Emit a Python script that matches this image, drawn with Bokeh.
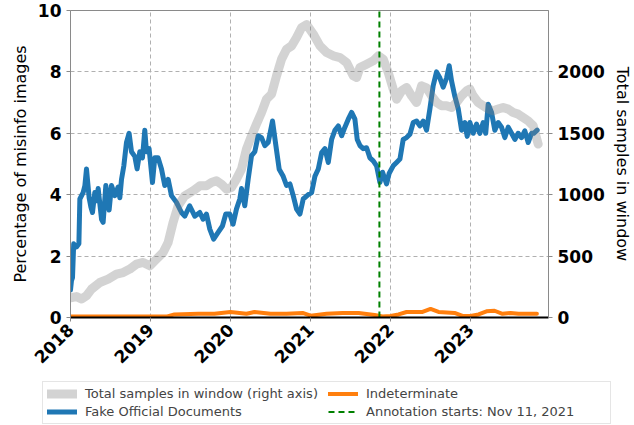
import math
from datetime import datetime
from bokeh.plotting import figure
from bokeh.layouts import column
from bokeh.models import (Range1d, LinearAxis, FixedTicker, DatetimeTickFormatter,
                          Legend, LegendItem)
from bokeh.embed import file_html
from bokeh.resources import INLINE

# ---------------- data (decimal years) ----------------
fake_t = [
    2018.000, 2018.012, 2018.025, 2018.040, 2018.075, 2018.105, 2018.117, 2018.158, 2018.180, 2018.200,
    2018.233, 2018.255, 2018.275, 2018.304, 2018.325, 2018.346, 2018.388, 2018.408, 2018.442, 2018.483,
    2018.513, 2018.554, 2018.596, 2018.617, 2018.638, 2018.667, 2018.700, 2018.733, 2018.763, 2018.804,
    2018.833, 2018.867, 2018.900, 2018.929, 2018.950, 2018.983, 2019.025, 2019.054, 2019.096, 2019.138,
    2019.179, 2019.221, 2019.263, 2019.325, 2019.388, 2019.429, 2019.490, 2019.554, 2019.617, 2019.658,
    2019.700, 2019.742, 2019.790, 2019.846, 2019.900, 2019.942, 2019.992, 2020.033, 2020.075, 2020.117,
    2020.138, 2020.179, 2020.221, 2020.263, 2020.304, 2020.346, 2020.388, 2020.429, 2020.471, 2020.525,
    2020.567, 2020.608, 2020.658, 2020.700, 2020.742, 2020.783, 2020.825, 2020.867, 2020.908, 2020.971,
    2021.013, 2021.054, 2021.096, 2021.138, 2021.179, 2021.221, 2021.263, 2021.304, 2021.346, 2021.388,
    2021.429, 2021.471, 2021.513, 2021.554, 2021.583, 2021.617, 2021.658, 2021.700, 2021.742, 2021.783,
    2021.825, 2021.867, 2021.900, 2021.950, 2021.983, 2022.033, 2022.075, 2022.117, 2022.158, 2022.200,
    2022.242, 2022.283, 2022.325, 2022.367, 2022.408, 2022.450, 2022.492, 2022.533, 2022.575, 2022.617,
    2022.658, 2022.700, 2022.733, 2022.763, 2022.804, 2022.846, 2022.888, 2022.929, 2022.958, 2022.992,
    2023.033, 2023.075, 2023.117, 2023.158, 2023.190, 2023.221, 2023.263, 2023.304, 2023.346, 2023.388,
    2023.429, 2023.471, 2023.513, 2023.554, 2023.596, 2023.638, 2023.679, 2023.721, 2023.763, 2023.790, 2023.833,
]
fake_pct = [
    0.9, 1.2, 1.3, 2.4, 2.3, 2.4, 3.86, 4.07, 4.3, 4.84,
    3.9, 3.6, 3.42, 4.07, 3.8, 4.2, 3.2, 3.1, 4.3, 3.5,
    4.3, 3.97, 4.25, 3.9, 4.5, 4.94, 5.7, 6.0, 5.4, 5.25,
    4.84, 5.4, 5.2, 6.1, 5.4, 5.5, 4.4, 5.2, 5.2, 4.84,
    4.3, 4.5, 3.97, 3.75, 3.42, 3.3, 3.64, 3.3, 3.42, 3.2,
    3.37, 2.88, 2.55, 2.77, 2.98, 3.37, 3.37, 3.04, 3.53, 3.86,
    4.2, 3.64, 4.5, 5.27, 5.4, 5.92, 5.86, 5.6, 5.7, 6.4,
    5.6, 4.83, 4.6, 4.3, 4.35, 3.97, 3.53, 3.37, 3.86, 4.0,
    4.07, 4.6, 4.84, 5.37, 5.5, 5.05, 5.8, 6.1, 6.24, 5.92,
    6.2, 6.46, 6.68, 6.46, 5.8, 5.6, 5.5, 5.53, 5.2, 5.1,
    4.94, 4.4, 4.73, 4.35, 4.7, 4.94, 5.05, 5.16, 5.8, 5.86,
    5.97, 6.35, 6.4, 6.24, 6.4, 6.1, 6.8, 7.55, 8.0, 7.8,
    7.5, 7.8, 8.2, 7.7, 7.2, 6.8, 6.1, 6.35, 5.9, 6.35,
    6.0, 6.3, 6.0, 6.35, 6.0, 6.95, 6.68, 6.1, 6.35, 6.2,
    5.86, 6.2, 6.0, 5.8, 6.0, 5.86, 6.08, 5.7, 6.0, 6.0, 6.1,
]

total_t = [
    2018.000, 2018.075, 2018.138, 2018.200, 2018.263, 2018.367, 2018.471, 2018.575, 2018.658, 2018.742,
    2018.825, 2018.908, 2018.992, 2019.075, 2019.158, 2019.221, 2019.283, 2019.346, 2019.429, 2019.533,
    2019.617, 2019.700, 2019.763, 2019.825, 2019.888, 2019.950, 2020.013, 2020.075, 2020.138, 2020.200,
    2020.263, 2020.325, 2020.388, 2020.450, 2020.513, 2020.575, 2020.638, 2020.700, 2020.763, 2020.825,
    2020.888, 2020.950, 2021.033, 2021.117, 2021.200, 2021.283, 2021.367, 2021.450, 2021.533, 2021.575,
    2021.617, 2021.700, 2021.783, 2021.846, 2021.908, 2021.971, 2022.033, 2022.075, 2022.138, 2022.200,
    2022.263, 2022.325, 2022.388, 2022.450, 2022.513, 2022.575, 2022.638, 2022.700, 2022.763, 2022.825,
    2022.888, 2022.950, 2022.992, 2023.033, 2023.096, 2023.158, 2023.221, 2023.283, 2023.346, 2023.408,
    2023.471, 2023.533, 2023.596, 2023.658, 2023.721, 2023.783, 2023.846,
]
total_n = [
    160, 170, 150, 177, 231, 285, 313, 353, 366, 394,
    435, 448, 421, 475, 529, 611, 774, 910, 991, 1032,
    1072, 1072, 1099, 1113, 1086, 1045, 1058, 1127, 1208, 1371,
    1479, 1575, 1669, 1778, 1819, 1968, 2104, 2185, 2212, 2280,
    2361, 2385, 2308, 2212, 2158, 2131, 2117, 2076, 1968, 1954,
    2036, 2063, 2090, 2131, 2104, 1995, 1860, 1778, 1846, 1873,
    1805, 1751, 1887, 1870, 1805, 1751, 1724, 1724, 1710, 1751,
    1805, 1846, 1860, 1805, 1751, 1724, 1697, 1683, 1697, 1710,
    1697, 1669, 1656, 1629, 1601, 1561, 1412,
]

indet_t = [
    2018.00, 2019.20, 2019.30, 2019.60, 2019.80, 2020.00, 2020.20, 2020.30, 2020.50, 2020.70,
    2020.90, 2021.00, 2021.20, 2021.40, 2021.60, 2021.80, 2021.90, 2022.00, 2022.10, 2022.20,
    2022.40, 2022.50, 2022.60, 2022.80, 2022.90, 2023.00, 2023.10, 2023.20, 2023.30, 2023.40,
    2023.50, 2023.60, 2023.83,
]
indet_pct = [
    0.03, 0.03, 0.10, 0.12, 0.12, 0.18, 0.12, 0.18, 0.12, 0.12,
    0.15, 0.06, 0.12, 0.15, 0.15, 0.08, 0.03, 0.05, 0.10, 0.18,
    0.18, 0.28, 0.18, 0.15, 0.05, 0.05, 0.10, 0.20, 0.22, 0.12,
    0.15, 0.12, 0.12,
]

year_ticks = [2018, 2019, 2020, 2021, 2022, 2023]
left_ticks = [0, 2, 4, 6, 8, 10]
right_ticks = [0, 500, 1000, 1500, 2000]
left_range = (0, 10)
right_range = (0, 2500)
annotation_start = datetime(2021, 11, 11)
x_start, x_end = 2018.0, 2023.975

label_total = "Total samples in window (right axis)"
label_fake = "Fake Official Documents"
label_indet = "Indeterminate"
label_annot = "Annotation starts: Nov 11, 2021"


def to_dt(y):
    yr = int(math.floor(y))
    a = datetime(yr, 1, 1)
    b = datetime(yr + 1, 1, 1)
    return a + (b - a) * (y - yr)


def ms(d):
    return (d - datetime(1970, 1, 1)).total_seconds() * 1000.0


FONT = "DejaVu Sans"
GRID = "#b0b0b0"
SPINE = "#8a8a8a"
W = 634

fake_x = [to_dt(t) for t in fake_t]
indet_x = [to_dt(t) for t in indet_t]
total_x = [to_dt(t) for t in total_t]

STY_FAKE = dict(line_color="#1f77b4", line_width=5, line_join="round", line_cap="round")
STY_INDET = dict(line_color="#ff7f0e", line_width=4, line_join="round", line_cap="round")
STY_TOTAL = dict(line_color="#808080", line_alpha=0.35, line_width=9,
                 line_join="round", line_cap="round")
STY_ANNOT = dict(line_color="#008000", line_dash="6 4", line_width=2)

p = figure(width=W, height=375, x_axis_type="datetime",
           x_range=Range1d(to_dt(x_start), to_dt(x_end)),
           y_range=Range1d(*left_range),
           output_backend="svg", toolbar_location=None,
           min_border_left=70, min_border_right=86, min_border_top=10,
           min_border_bottom=58)
p.extra_y_ranges = {"right": Range1d(*right_range)}

p.background_fill_color = "white"
p.border_fill_color = "white"
p.outline_line_color = SPINE
p.outline_line_width = 1

# grid
xt = FixedTicker(ticks=[ms(datetime(y, 1, 1)) for y in year_ticks])
p.xaxis.ticker = xt
p.xgrid.ticker = xt
p.yaxis.ticker = FixedTicker(ticks=left_ticks)
for g in (p.xgrid, p.ygrid):
    g.grid_line_color = GRID
    g.grid_line_dash = "4 3"
    g.grid_line_width = 1

fmt = "%Y"
p.xaxis.formatter = DatetimeTickFormatter(
    microseconds=fmt, milliseconds=fmt, seconds=fmt, minsec=fmt, minutes=fmt,
    hourmin=fmt, hours=fmt, days=fmt, months=fmt, years=fmt)

# lines
p.line(fake_x, fake_pct, **STY_FAKE)
p.line(indet_x, indet_pct, **STY_INDET)
p.line(total_x, total_n, y_range_name="right", **STY_TOTAL)
p.segment(x0=[annotation_start], y0=[left_range[0]],
          x1=[annotation_start], y1=[left_range[1]], **STY_ANNOT)

# axes styling
right_axis = LinearAxis(y_range_name="right", ticker=FixedTicker(ticks=right_ticks),
                        axis_label="Total samples in window")
p.add_layout(right_axis, "right")
if "axis_label_orientation" in right_axis.properties():
    right_axis.axis_label_orientation = "vertical"

for ax in (p.yaxis[0], right_axis):
    ax.axis_line_color = SPINE
for ax in (p.xaxis[0], p.yaxis[0], right_axis):
    ax.major_tick_line_color = SPINE
    ax.major_tick_out = 4
    ax.major_tick_in = 0
    ax.minor_tick_line_color = None
    ax.major_label_text_font = FONT
    ax.major_label_text_font_style = "bold"
    ax.major_label_text_font_size = "17px"
    ax.major_label_text_color = "black"
    ax.axis_label_text_font = FONT
    ax.axis_label_text_font_style = "normal"
    ax.axis_label_text_font_size = "16px"
    ax.axis_label_text_color = "black"
p.xaxis.axis_line_color = "black"
p.xaxis.axis_line_width = 2
p.xaxis.major_label_orientation = math.pi / 4
p.yaxis[0].axis_label = "Percentage of misinfo images"

# ---------------- legend strip below the chart ----------------
lf = figure(width=W, height=50, x_axis_type="datetime",
            x_range=Range1d(to_dt(x_start), to_dt(x_end)),
            y_range=Range1d(*left_range),
            output_backend="svg", toolbar_location=None,
            min_border=0, min_border_left=0, min_border_right=0,
            min_border_top=0, min_border_bottom=0)
if "frame_align" in lf.properties():
    lf.frame_align = False
    p.frame_align = False
lf.axis.visible = False
lf.grid.visible = False
lf.outline_line_color = None
lf.background_fill_color = "white"
lf.border_fill_color = "white"

l_total = lf.line(total_x, [v / 250.0 for v in total_n], **STY_TOTAL)
l_fake = lf.line(fake_x, fake_pct, **STY_FAKE)
l_indet = lf.line(indet_x, indet_pct, **STY_INDET)
l_annot = lf.segment(x0=[annotation_start], y0=[left_range[0]],
                     x1=[annotation_start], y1=[left_range[1]], **STY_ANNOT)
for r in (l_total, l_fake, l_indet, l_annot):
    r.visible = False

legend = Legend(items=[
    LegendItem(label=label_total, renderers=[l_total]),
    LegendItem(label=label_fake, renderers=[l_fake]),
    LegendItem(label=label_indet, renderers=[l_indet]),
    LegendItem(label=label_annot, renderers=[l_annot]),
], ncols=2, location=(42, 1))
legend.label_text_font = FONT
legend.label_text_font_size = "13px"
legend.glyph_width = 30
legend.glyph_height = 13
legend.label_standoff = 8
legend.label_height = 13
legend.label_width = 240
legend.spacing = 3
legend.padding = 4
legend.margin = 0
legend.border_line_color = "#cccccc"
legend.border_line_width = 1
legend.background_fill_alpha = 1.0
legend.inactive_fill_alpha = 0.0
lf.add_layout(legend, "center")

layout = column(p, lf, spacing=0)
open("out.html", "w").write(file_html(layout, INLINE))
